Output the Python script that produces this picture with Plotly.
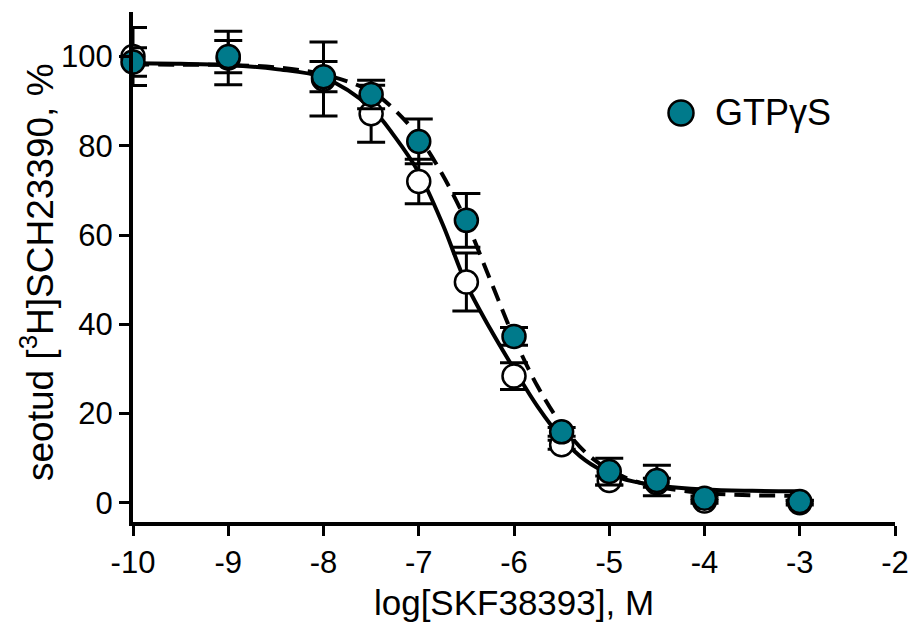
import plotly.graph_objects as go

# ---- data ----
log_dose = [-10, -9, -8, -7.5, -7, -6.5, -6, -5.5, -5, -4.5, -4, -3]

gtp_mean = [98.8, 100.0, 95.5, 91.5, 81.0, 63.3, 37.3, 15.9, 7.0, 5.0, 1.0, 0.3]
gtp_err  = [3.2, 3.6, 3.4, 3.2, 5.0, 6.0, 2.0, 1.0, 3.0, 3.4, 0.5, 0.3]

ctrl_mean = [100.0, 99.7, 95.0, 87.2, 72.0, 49.5, 28.4, 13.0, 5.0, 4.5, 0.4, 0.0]
ctrl_err  = [6.5, 6.0, 8.3, 6.4, 5.0, 6.5, 3.0, 1.0, 1.0, 1.0, 0.5, 0.5]

curve_x = [-10, -9.5, -9, -8.5, -8, -7.5, -7.25, -7, -6.75, -6.5, -6.25, -6,
           -5.75, -5.5, -5.25, -5, -4.75, -4.5, -4, -3.5, -3]
ctrl_curve = [98.5, 98.4, 98.1, 97.2, 95.3, 88.5, 82.0, 74.0, 62.5, 49.0, 39.0, 30.0,
              21.5, 14.5, 9.5, 6.5, 4.8, 3.9, 3.0, 2.7, 2.6]
gtp_curve = [98.2, 98.2, 98.1, 97.6, 96.0, 92.2, 88.0, 82.0, 73.5, 63.0, 50.0, 37.0,
             26.0, 17.5, 11.3, 7.4, 5.0, 3.6, 2.2, 1.7, 1.6]

x_ticks = [-10, -9, -8, -7, -6, -5, -4, -3, -2]
y_ticks = [0, 20, 40, 60, 80, 100]

legend_label = "GTPγS"
x_title = "log[SKF38393], M"
y_title = "seotud [<sup>3</sup>H]SCH23390, %"

TEAL = "#007A8B"
FONT = "Liberation Sans, Arial, sans-serif"

fig = go.Figure()

fig.add_trace(go.Scatter(
    x=curve_x, y=ctrl_curve, mode="lines",
    line=dict(color="black", width=4, shape="spline"),
    showlegend=False, hoverinfo="skip"))
fig.add_trace(go.Scatter(
    x=curve_x, y=gtp_curve, mode="lines",
    line=dict(color="black", width=4, shape="spline", dash="16px,9px"),
    showlegend=False, hoverinfo="skip"))

fig.add_trace(go.Scatter(
    x=log_dose, y=ctrl_mean, mode="markers", name="control",
    marker=dict(size=23, color="white", line=dict(color="black", width=2.5)),
    error_y=dict(type="data", array=ctrl_err, visible=True,
                 color="black", thickness=3, width=14),
    cliponaxis=False, showlegend=False))
fig.add_trace(go.Scatter(
    x=log_dose, y=gtp_mean, mode="markers", name=legend_label,
    marker=dict(size=23, color=TEAL, line=dict(color="black", width=2.5)),
    error_y=dict(type="data", array=gtp_err, visible=True,
                 color="black", thickness=3, width=14),
    cliponaxis=False, showlegend=False))

# legend drawn as shape + text
L, R, T, B = 133, 17, 12, 103
W, H = 912 - L - R, 625 - T - B
lx = (681 - L) / W
ly = (625 - B - 113) / H
fig.add_shape(type="circle", xref="paper", yref="paper",
              xsizemode="pixel", ysizemode="pixel",
              xanchor=lx, yanchor=ly, x0=-12.5, x1=12.5, y0=-12.5, y1=12.5,
              fillcolor=TEAL, line=dict(color="black", width=2.5))
fig.add_annotation(x=(713 - L) / W, y=ly, xref="paper", yref="paper",
                   text=legend_label, showarrow=False, xanchor="left",
                   yanchor="middle", font=dict(size=36, color="black", family=FONT))

# y-axis title as rotated annotation (precise placement)
fig.add_annotation(x=(37 - L) / W, y=(625 - B - 272) / H, xref="paper", yref="paper",
                   text=y_title, showarrow=False, textangle=-90,
                   xanchor="center", yanchor="middle",
                   font=dict(size=37, color="black", family=FONT))

fig.update_layout(
    width=912, height=625,
    margin=dict(l=L, r=R, t=T, b=B, autoexpand=False),
    paper_bgcolor="white", plot_bgcolor="white",
    font=dict(family=FONT, color="black"),
)
fig.update_xaxes(
    range=[-10, -2], tickvals=x_ticks, ticktext=[str(v) for v in x_ticks],
    showline=True, linecolor="black", linewidth=4,
    ticks="outside", ticklen=10, tickwidth=3, tickcolor="black",
    showgrid=False, zeroline=False, automargin=False,
    tickfont=dict(size=31, family=FONT),
    title=dict(text=x_title, font=dict(size=35, family=FONT), standoff=12),
)
fig.update_yaxes(
    range=[-4.3, 110], tickvals=y_ticks,
    showline=True, linecolor="black", linewidth=4,
    ticks="outside", ticklen=10, tickwidth=3, tickcolor="black",
    showgrid=False, zeroline=False, automargin=False,
    tickfont=dict(size=31, family=FONT),
)

fig.write_html("out.html", config={"displayModeBar": False},
               post_script="document.body.style.margin='0';document.body.style.overflow='hidden';")
